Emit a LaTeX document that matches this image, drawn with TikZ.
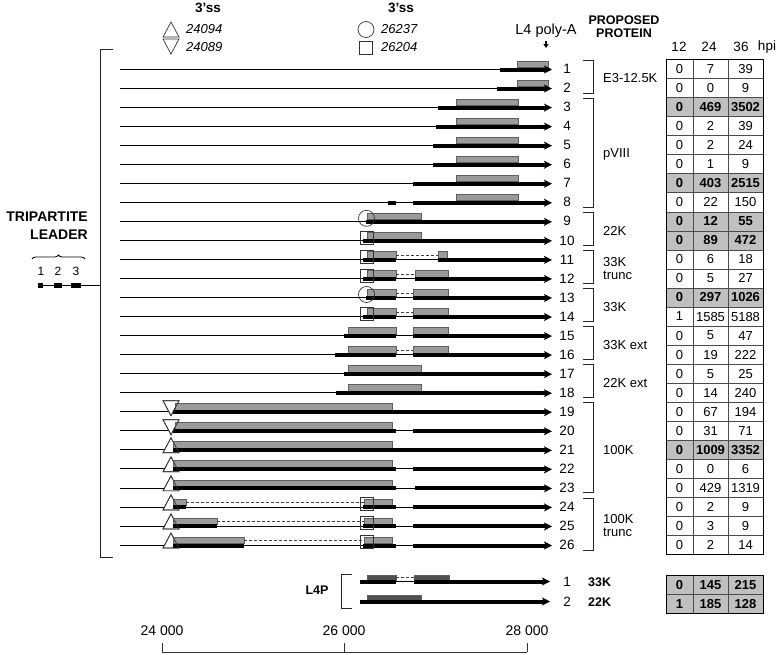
\documentclass[tikz,border=0pt]{standalone}
\usepackage{fontspec}
\setmainfont{Liberation Sans}
\usetikzlibrary{arrows.meta,positioning,decorations.pathreplacing}
\definecolor{orfgray}{RGB}{155,155,155}
\definecolor{orfedge}{RGB}{95,95,95}
\definecolor{cellgray}{RGB}{192,192,192}
\definecolor{lpgray}{RGB}{80,80,80}
\newcommand{\fsz}[1]{\fontsize{#1}{#1}\selectfont}

\begin{document}
\begin{tikzpicture}[x=1pt,y=-1pt, declare function={ry(\r)=69+(\r-1)*19.04;},
  intron/.style={line width=0.7pt,black},
  exon/.style={line width=4pt,black},
  tipline/.style={exon,-{Stealth[length=8pt,width=8pt,inset=2pt]}},
  orf/.style={fill=orfgray,draw=orfedge,line width=0.7pt},
  gapline/.style={dash pattern=on 3pt off 2pt,line width=0.8pt,black!75},
  ssmark/.style={draw=black!80,line width=0.7pt},
  brk/.style={line width=0.8pt,black!85},
  lbl/.style={font=\fsz{13.5},inner sep=0pt},
  grp/.style={font=\fsz{13},inner sep=0pt,anchor=west,align=left},
  hdr/.style={font=\bfseries\fsz{13.5},inner sep=0pt,align=center},
  cell/.style={draw=black!70,line width=0.6pt,minimum height=19.04pt,inner sep=0pt,font=\fsz{13}},
  rowplain/.style={fill=white},
  rowhot/.style={fill=cellgray,font=\bfseries\fsz{13}}]
\useasboundingbox (0,0) rectangle (777,654);

% header
\node[hdr] (ss1) at (208,8) {3’ss};
\node[hdr] (ss2) at (401,8) {3’ss};
\filldraw[ssmark,fill=white] (163,37) -- (179,37) -- (171,22) -- cycle;
\filldraw[ssmark,fill=white] (163,39) -- (179,39) -- (171,54) -- cycle;
\node[lbl,anchor=west,font=\itshape\fsz{13}] (s24094) at (186,29.5) {24094};
\node[lbl,anchor=west,font=\itshape\fsz{13}] (s24089) at (186,47) {24089};
\draw[ssmark] (366,29.5) circle[radius=8];
\draw[ssmark] (359.5,41) rectangle (372.5,54);
\node[lbl,anchor=west,font=\itshape\fsz{13}] (s26237) at (381,29.5) {26237};
\node[lbl,anchor=west,font=\itshape\fsz{13}] (s26204) at (381,47.5) {26204};
\node[lbl,font=\fsz{14.5}] (polya) at (546,31) {L4 poly-A};
\coordinate (polyatip) at (546,48);
\draw[line width=1.2pt,-{Triangle[length=4pt,width=5pt]}] ([yshift=-3pt]polya.south) -- (polyatip);
\node[hdr,font=\bfseries\fontsize{12.5}{13.5}\selectfont] (prot) at (624,26.5) {PROPOSED\\PROTEIN};
\foreach \h/\x in {12/679,24/709,36/741,hpi/767}
  \node[lbl] (h\h) at (\x,47) {\h};

% tripartite leader
\node[hdr,font=\bfseries\fontsize{14}{18}\selectfont,anchor=east,align=right] (tpl) at (88,226) {TRIPARTITE\\LEADER};
\draw[decorate,decoration={brace,amplitude=4pt},line width=0.8pt] (32,259) -- (85,259);
\draw[intron] (38,285) -- (100,285);
\foreach \a/\b/\x [count=\k] in {38/43/41,54/62/58,71/81/76} {
  \fill (\a,283) rectangle (\b,287.5);
  \node[lbl,font=\fsz{12}] (ex\k) at (\x,271) {\k};
}
\draw[brk] (113,49) -- (100,49) -- (100,557) -- (113,557);

% transcripts
\foreach \r in {1,...,26} \draw[intron] (120,{ry(\r)}) -- (545,{ry(\r)});
\foreach \r in {19,20} \filldraw[ssmark,fill=white] (163,{ry(\r)-11}) -- (179,{ry(\r)-11}) -- (171,{ry(\r)+4}) -- cycle;
\foreach \r in {21,...,26} \filldraw[ssmark,fill=white] (163,{ry(\r)+3}) -- (179,{ry(\r)+3}) -- (171,{ry(\r)-12}) -- cycle;
\foreach \r/\a/\b in {1/517/548,2/517/548,3/456/518,4/456/518,5/456/518,6/456/518,7/456/518,8/456/518,
  9/367/421,10/367/421,11/367/396,11/438/447,12/367/396,12/415/448,13/367/396,13/413/448,14/367/396,14/413/448,
  15/348/396,15/413/448,16/348/396,16/413/448,17/348/421,18/348/421,19/175/392,20/175/392,21/173/392,22/173/392,
  23/173/392,24/173/186,24/364/392,25/173/217,25/364/392,26/173/244,26/364/392}
  \draw[orf] (\a,{ry(\r)-8}) rectangle (\b,{ry(\r)-1.5});
\foreach \r/\a/\b in {1/500/545,2/497/545,3/438/545,4/436/545,5/433/545,6/433/545,7/413/545,8/388/396,8/413/545,
  9/366/545,10/363/545,11/363/396,11/438/545,12/363/396,12/415/545,13/366/396,13/413/545,14/363/396,14/413/545,
  15/344/396,15/413/545,16/335/396,16/413/545,17/344/545,18/336/545,19/173/545,20/173/396,20/413/545,21/173/545,
  22/173/396,22/413/545,23/173/396,23/415/545,24/173/186,24/363/396,24/413/545,25/173/217,25/363/396,25/413/545,
  26/173/244,26/363/396,26/413/545}
  \draw[exon] (\a,{ry(\r)+0.5}) -- (\b,{ry(\r)+0.5});
\foreach \r in {1,...,26} \draw[tipline] (535,{ry(\r)+0.5}) -- (552,{ry(\r)+0.5});
\foreach \r/\a/\b in {11/396/438,12/396/415,13/396/413,14/396/413,16/396/413,24/186/364,25/217/364,26/244/364}
  \draw[gapline] (\a,{ry(\r)-4.5}) -- (\b,{ry(\r)-4.5});
\foreach \r in {9,13} \draw[ssmark] (366.5,{ry(\r)-3}) circle[radius=8];
\foreach \r in {10,11,12,14,24,25,26} \draw[ssmark] (360,{ry(\r)-9.5}) rectangle (373,{ry(\r)+3.5});
\foreach \r in {19,20} \draw[ssmark] (163,{ry(\r)-11}) -- (179,{ry(\r)-11}) -- (171,{ry(\r)+4}) -- cycle;
\foreach \r in {21,...,26} \draw[ssmark] (163,{ry(\r)+3}) -- (179,{ry(\r)+3}) -- (171,{ry(\r)-12}) -- cycle;
\foreach \r in {1,...,26} \node[lbl] (n\r) at (567,{ry(\r)}) {\r};

% protein groups
\foreach \p/\q/\t [count=\k] in {1/2/E3-12.5K,3/8/pVIII,9/10/22K,11/12/33K\\trunc,13/14/33K,
  15/16/33K ext,17/18/22K ext,19/23/100K,24/26/100K\\trunc} {
  \draw[brk] (583,{ry(\p)-9}) -- (593,{ry(\p)-9}) -- (593,{ry(\q)+5}) -- (583,{ry(\q)+5});
  \node[grp] (g\k) at (603,{(ry(\p)+ry(\q))/2}) {\t};
}

% read counts
\foreach \a/\b/\c/\s [count=\i] in {0/7/39/rowplain,0/0/9/rowplain,0/469/3502/rowhot,0/2/39/rowplain,
  0/2/24/rowplain,0/1/9/rowplain,0/403/2515/rowhot,0/22/150/rowplain,0/12/55/rowhot,0/89/472/rowhot,
  0/6/18/rowplain,0/5/27/rowplain,0/297/1026/rowhot,1/1585/5188/rowplain,0/5/47/rowplain,0/19/222/rowplain,
  0/5/25/rowplain,0/14/240/rowplain,0/67/194/rowplain,0/31/71/rowplain,0/1009/3352/rowhot,0/0/6/rowplain,
  0/429/1319/rowplain,0/2/9/rowplain,0/3/9/rowplain,0/2/14/rowplain} {
  \node[cell,\s,minimum width=27pt] (c\i-1) at (679.5,{ry(\i)}) {\a};
  \node[cell,\s,minimum width=35pt] (c\i-2) at (710.5,{ry(\i)}) {\b};
  \node[cell,\s,minimum width=35pt] (c\i-3) at (745.5,{ry(\i)}) {\c};
}
\draw[line width=0.9pt] (666,59.5) rectangle (763,554.5);

% L4P
\draw[orf,fill=lpgray] (367,575) rectangle (396,580);
\draw[orf,fill=lpgray] (414,575) rectangle (449,580);
\draw[orf,fill=lpgray] (367,595) rectangle (421,600);
\draw[intron] (396,581.5) -- (414,581.5);
\draw[exon] (360,581.5) -- (396,581.5);
\draw[exon] (414,581.5) -- (540,581.5);
\draw[exon] (360,601.5) -- (540,601.5);
\draw[tipline] (533,581.5) -- (550,581.5);
\draw[tipline] (533,601.5) -- (550,601.5);
\draw[gapline] (396,577.5) -- (414,577.5);
\draw[brk] (352,574) -- (341,574) -- (341,608) -- (352,608);
\node[hdr,font=\bfseries\fsz{12.5}] (lfp) at (317,590) {L4P};
\foreach \r/\y/\t in {1/582/33K,2/602/22K} {
  \node[lbl] (m\r) at (567,\y) {\r};
  \node[lbl,anchor=west,font=\bfseries\fsz{12.5}] (mp\r) at (588,\y) {\t};
}
\foreach \a/\b/\c/\y [count=\i] in {0/145/215/585,1/185/128/604} {
  \node[cell,rowhot,minimum width=27pt,minimum height=19pt] (d\i-1) at (679.5,\y) {\a};
  \node[cell,rowhot,minimum width=35pt,minimum height=19pt] (d\i-2) at (710.5,\y) {\b};
  \node[cell,rowhot,minimum width=35pt,minimum height=19pt] (d\i-3) at (745.5,\y) {\c};
}
\draw[line width=0.9pt] (666,575.5) rectangle (763,613.5);

% scale
\draw[line width=0.8pt,black!80] (162,652) -- (527,652);
\foreach \x/\t [count=\k] in {162/24 000,344/26 000,527/28 000} {
  \draw[line width=0.8pt,black!80] (\x,643) -- (\x,652);
  \node[lbl,font=\fsz{14}] (ax\k) at (\x,631) {\t};
}
\end{tikzpicture}
\end{document}
